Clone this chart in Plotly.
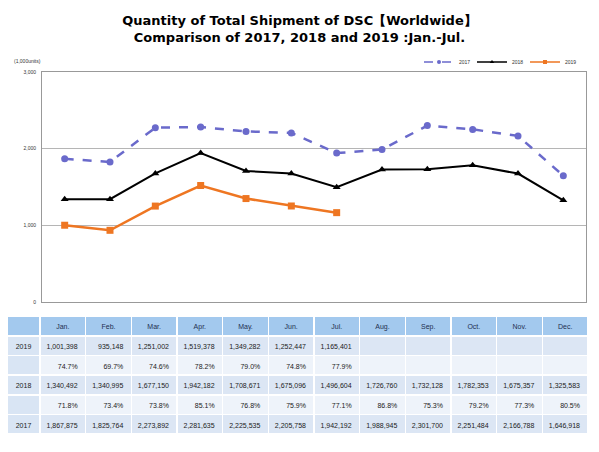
import plotly.graph_objects as go

# shipment quantity (units)
months = ["Jan.", "Feb.", "Mar.", "Apr.", "May.", "Jun.", "Jul.",
          "Aug.", "Sep.", "Oct.", "Nov.", "Dec."]
ship_2019 = [1001398, 935148, 1251002, 1519378, 1349282, 1252447, 1165401]
ship_2018 = [1340492, 1340995, 1677150, 1942182, 1708671, 1675096, 1496604,
             1726760, 1732128, 1782353, 1675357, 1325583]
ship_2017 = [1867875, 1825764, 2273892, 2281635, 2225535, 2205758, 1942192,
             1988945, 2301700, 2251484, 2166788, 1646918]
# year-on-year ratios as printed
pct_2019 = ["74.7%", "69.7%", "74.6%", "78.2%", "79.0%", "74.8%", "77.9%"]
pct_2018 = ["71.8%", "73.4%", "73.8%", "85.1%", "76.8%", "75.9%", "77.1%",
            "86.8%", "75.3%", "79.2%", "77.3%", "80.5%"]
years = ["2019", "", "2018", "", "2017"]
y_ticks = [0, 1000, 2000, 3000]

C2017 = "#6a6acb"
C2018 = "#000000"
C2019 = "#ee7622"

W, H = 599, 452


def px_x(v):
    return v / W


def px_y(v):
    return 1 - v / H


series = [
    ("2017", ship_2017, C2017, "dash", "circle", 2.5),
    ("2018", ship_2018, C2018, "solid", "triangle-up", 2),
    ("2019", ship_2019, C2019, "solid", "square", 2.5),
]

fig = go.Figure()

for name, vals, color, dash, symbol, lw in series:
    fig.add_trace(go.Scatter(
        x=months[:len(vals)], y=[v / 1000 for v in vals], name=name,
        mode="lines+markers", showlegend=False,
        line=dict(color=color, width=lw, dash=dash),
        marker=dict(symbol=symbol, size=7, color=color),
    ))
    # small legend entry, like the tiny excel legend
    fig.add_trace(go.Scatter(
        x=[None], y=[None], name=name, mode="lines+markers",
        line=dict(color=color, width=1.5, dash=dash),
        marker=dict(symbol=symbol, size=4, color=color),
    ))

# table under the chart
def fmt(v):
    return f"{v:,}"


cols = [years]
fills = [["#d9e5f4"] * 5]
for i in range(len(months)):
    v19 = fmt(ship_2019[i]) if i < len(ship_2019) else ""
    p19 = pct_2019[i] if i < len(pct_2019) else ""
    cols.append([v19, p19, fmt(ship_2018[i]), pct_2018[i], fmt(ship_2017[i])])
    fills.append(["#dce6f4", "#eef3fa", "#dce6f4", "#eef3fa", "#dce6f4"])

fig.add_trace(go.Table(
    domain=dict(x=[px_x(7), px_x(588)], y=[px_y(434), px_y(316)]),
    columnwidth=[33] + [45.7] * 12,
    header=dict(
        values=[""] + months,
        fill_color="#a3c9ee",
        line=dict(color="white", width=1.5),
        font=dict(family="Liberation Sans", size=7, color="#1f3050"),
        align="center", height=20,
    ),
    cells=dict(
        values=cols,
        fill_color=fills,
        line=dict(color="white", width=1.5),
        font=dict(family="Liberation Sans", size=7, color="#222222"),
        align=["center"] + ["right"] * 12, height=19.6,
    ),
))

fig.update_layout(
    width=W, height=H,
    margin=dict(l=0, r=0, t=0, b=0, autoexpand=False),
    paper_bgcolor="white", plot_bgcolor="white",
    title=dict(
        text="<b>Quantity of Total Shipment of DSC【Worldwide】</b><br>"
             "<b>Comparison of 2017, 2018 and 2019 :Jan.-Jul.</b>",
        x=0.5, xanchor="center", y=px_y(25), yanchor="middle",
        font=dict(family="DejaVu Sans", size=13, color="black"),
    ),
    xaxis=dict(
        domain=[px_x(42), px_x(586)], range=[-0.5, 11.5],
        showticklabels=False, showgrid=False, ticks="",
        showline=True, linecolor="#999999", linewidth=1, mirror=True,
    ),
    yaxis=dict(
        domain=[px_y(302), px_y(72)], range=[0, 3000],
        tickvals=y_ticks, tickformat=",",
        tickfont=dict(family="Liberation Sans", size=5, color="#333333"),
        showgrid=True, gridcolor="#b5b5b5", gridwidth=1,
        zeroline=True, zerolinecolor="#222222", zerolinewidth=1,
        showline=True, linecolor="#999999", linewidth=1, mirror=True,
        ticks="", ticklabelstandoff=4,
    ),
    legend=dict(
        orientation="h", x=px_x(419), xanchor="left",
        y=px_y(62), yanchor="middle",
        font=dict(family="Liberation Sans", size=5, color="#333333"),
        bgcolor="rgba(0,0,0,0)", itemwidth=30,
        entrywidth=8, entrywidthmode="pixels",
    ),
    annotations=[dict(
        text="(1,000units)", xref="paper", yref="paper",
        x=px_x(12), y=px_y(61), xanchor="left", yanchor="middle",
        showarrow=False,
        font=dict(family="Liberation Sans", size=5, color="#333333"),
    )],
)

# the page body has a default 8px margin; drop it so the figure sits at 0,0
fig.write_html("out.html", config={"displayModeBar": False},
               post_script="document.body.style.margin='0';")
